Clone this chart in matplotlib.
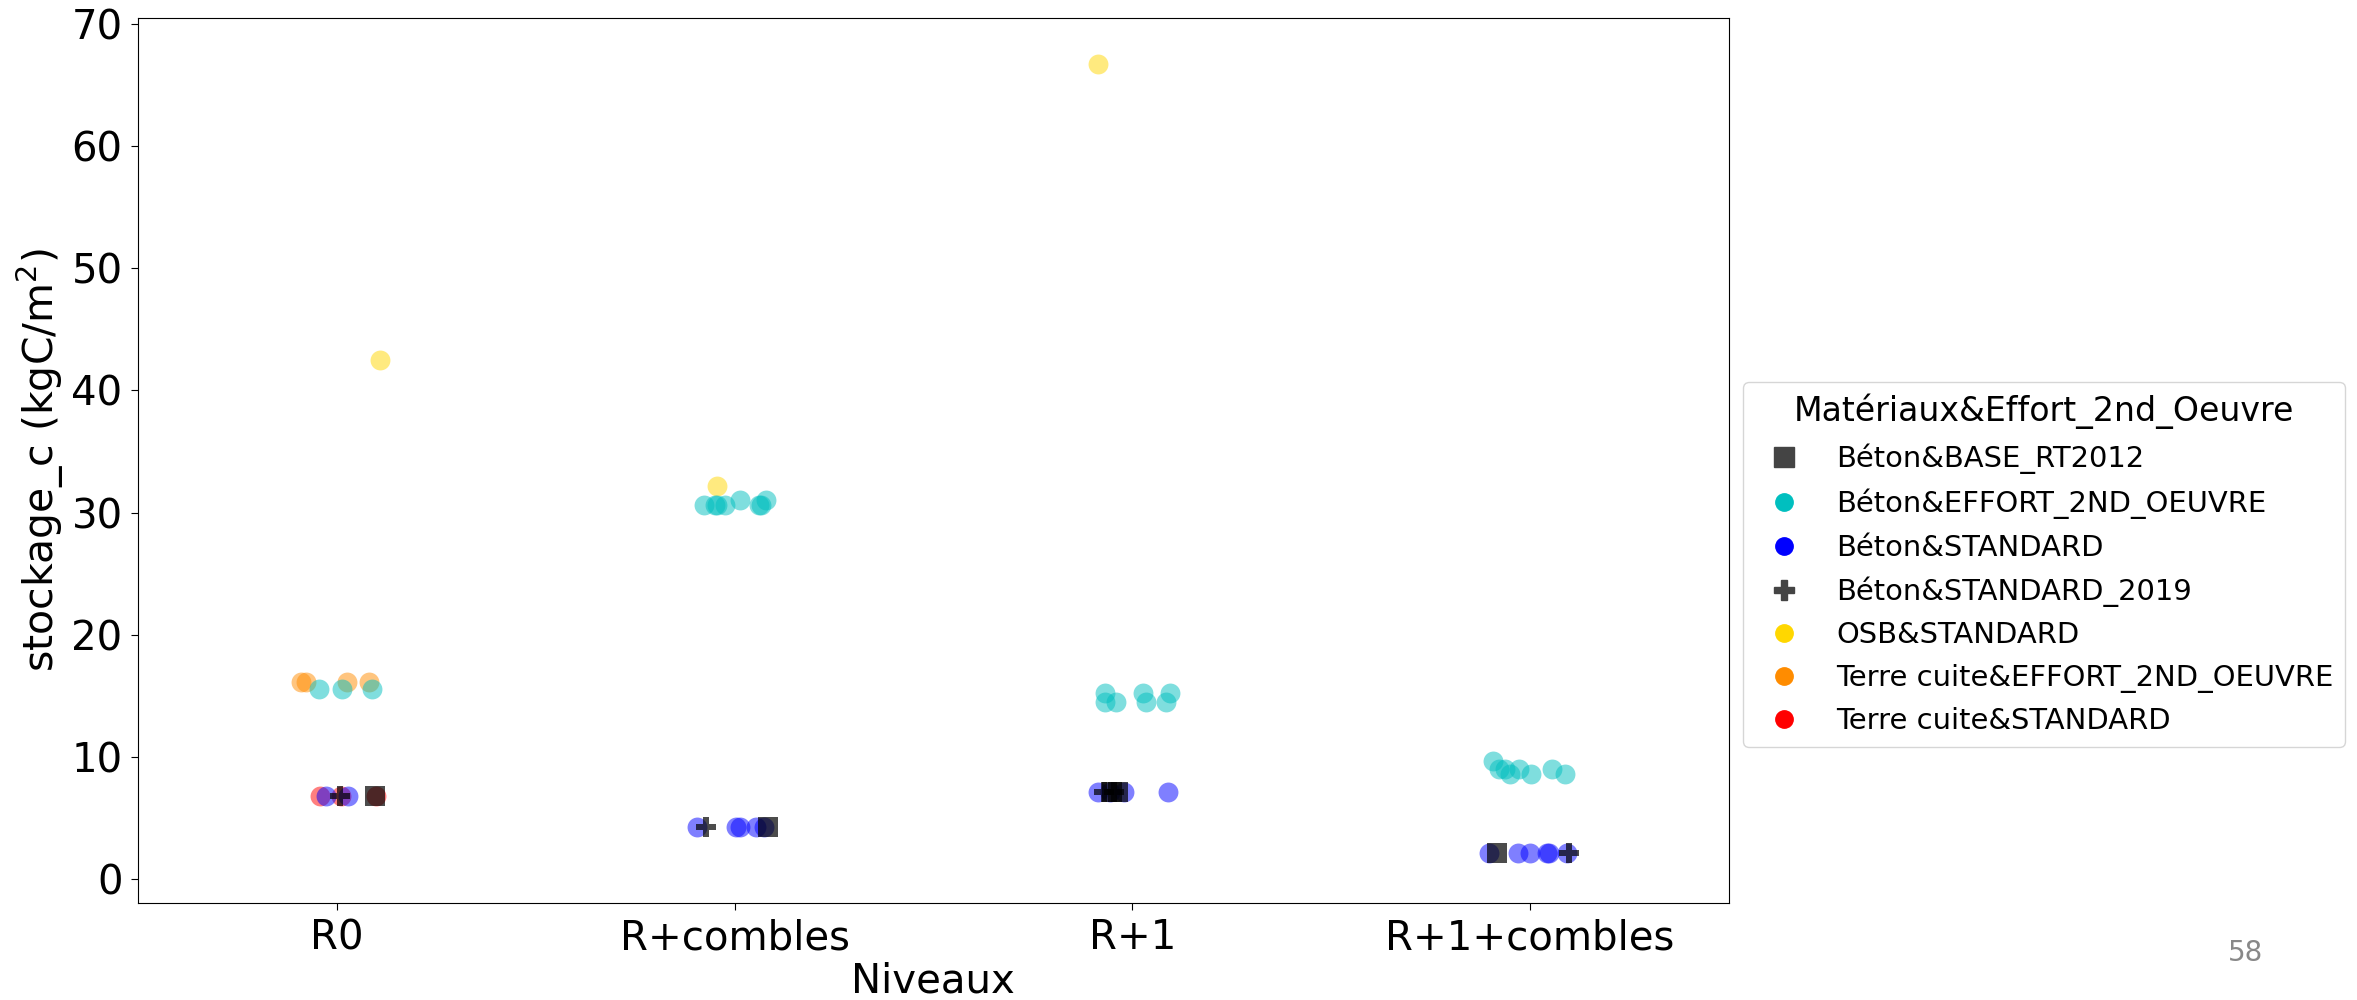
import numpy as np
import matplotlib.pyplot as plt
from matplotlib.lines import Line2D

levels = ["R0", "R+combles", "R+1", "R+1+combles"]

# one set of arrays per hue group: level index, value (kgC/m2)
base_lvl = [0, 1, 2, 2, 3]
base_val = [6.8, 4.3, 7.15, 7.15, 2.2]

effort_lvl = [0, 0, 0,
              1, 1, 1, 1, 1, 1, 1, 1,
              2, 2, 2, 2, 2, 2, 2,
              3, 3, 3, 3, 3, 3, 3, 3]
effort_val = [15.6, 15.6, 15.6,
              30.6, 30.6, 30.6, 30.6, 31.0, 30.6, 30.6, 31.0,
              15.25, 15.25, 15.25, 14.5, 14.5, 14.5, 14.5,
              9.67, 9.0, 9.0, 8.6, 9.0, 8.6, 9.0, 8.6]

std_lvl = [0, 0, 1, 1, 1, 1, 1, 2, 2, 2, 2, 3, 3, 3, 3, 3, 3]
std_val = [6.8, 6.8, 4.3, 4.3, 4.3, 4.3, 4.3, 7.15, 7.15, 7.15, 7.15,
           2.2, 2.2, 2.2, 2.2, 2.2, 2.2]

std2019_lvl = [0, 1, 2, 2, 3]
std2019_val = [6.8, 4.3, 7.15, 7.15, 2.2]

osb_lvl = [0, 1, 2]
osb_val = [42.5, 32.2, 66.7]

tc_effort_lvl = [0, 0, 0, 0]
tc_effort_val = [16.15, 16.15, 16.15, 16.15]

tc_std_lvl = [0, 0, 0]
tc_std_val = [6.8, 6.8, 6.8]

# horizontal jitter of each point
base_jit = [0.095, 0.084, -0.052, -0.037, -0.082]
effort_jit = [-0.045, 0.013, 0.088,
              -0.076, -0.048, -0.045, -0.024, 0.015, 0.062, 0.067, 0.08,
              -0.068, 0.027, 0.094, -0.068, -0.042, 0.035, 0.084,
              -0.092, -0.077, -0.062, -0.049, -0.028, 0.003, 0.055, 0.088]
std_jit = [-0.028, 0.028,
           -0.094, 0.004, 0.013, 0.055, 0.075,
           -0.085, -0.057, -0.02, 0.09,
           -0.103, -0.03, 0.001, 0.043, 0.047, 0.094]
std2019_jit = [0.008, -0.072, -0.07, -0.047, 0.097]
osb_jit = [0.108, -0.044, -0.085]
tc_effort_jit = [-0.09, -0.078, 0.025, 0.08]
tc_std_jit = [-0.043, 0.01, 0.098]

groups = [
    ("Terre cuite&EFFORT_2ND_OEUVRE", tc_effort_lvl, tc_effort_val, tc_effort_jit, "o", "darkorange", 0.5),
    ("Terre cuite&STANDARD", tc_std_lvl, tc_std_val, tc_std_jit, "o", "red", 0.5),
    ("OSB&STANDARD", osb_lvl, osb_val, osb_jit, "o", "gold", 0.5),
    ("Béton&EFFORT_2ND_OEUVRE", effort_lvl, effort_val, effort_jit, "o", "c", 0.5),
    ("Béton&STANDARD", std_lvl, std_val, std_jit, "o", "blue", 0.5),
    ("Béton&BASE_RT2012", base_lvl, base_val, base_jit, "s", "black", 0.7),
    ("Béton&STANDARD_2019", std2019_lvl, std2019_val, std2019_jit, "P", "black", 0.7),
]

fig = plt.figure(figsize=(23.57, 10), dpi=100)
ax = fig.add_axes([0.0585, 0.097, 0.675, 0.885])

for name, lvl, val, jit, mk, col, a in groups:
    x = np.array(lvl) + np.array(jit)
    size = 215 if mk == "s" else 205
    ax.scatter(x, val, s=size, marker=mk, color=col, alpha=a, linewidths=0)

ax.set_xlim(-0.5, 3.5)
ax.set_ylim(-1.93, 70.45)
ax.set_xticks(range(len(levels)))
ax.set_xticklabels(levels)
ax.set_yticks(range(0, 71, 10))
ax.tick_params(labelsize=29, length=5, pad=6)
ax.set_xlabel("Niveaux", fontsize=29, labelpad=2)
ax.set_ylabel("stockage_c (kgC/m$^2$)", fontsize=29.5)

handles = [
    Line2D([], [], ls="", marker="s", ms=15, color="#444444"),
    Line2D([], [], ls="", marker="o", ms=12.5, color="#00bfbf"),
    Line2D([], [], ls="", marker="o", ms=12.5, color="blue"),
    Line2D([], [], ls="", marker="P", ms=14, color="#444444"),
    Line2D([], [], ls="", marker="o", ms=12.5, color="gold"),
    Line2D([], [], ls="", marker="o", ms=12.5, color="darkorange"),
    Line2D([], [], ls="", marker="o", ms=12.5, color="red"),
]
labels = ["Béton&BASE_RT2012", "Béton&EFFORT_2ND_OEUVRE", "Béton&STANDARD",
          "Béton&STANDARD_2019", "OSB&STANDARD", "Terre cuite&EFFORT_2ND_OEUVRE",
          "Terre cuite&STANDARD"]
leg = ax.legend(handles, labels, title="Matériaux&Effort_2nd_Oeuvre",
                loc="center left", bbox_to_anchor=(1.0, 0.3825),
                fontsize=20.9, title_fontsize=23.9)

fig.text(2246 / 2357, 1 - 953 / 1000, "58", color="#888888", fontsize=20,
         ha="center", va="center")

fig.savefig("out.png", dpi=100)
